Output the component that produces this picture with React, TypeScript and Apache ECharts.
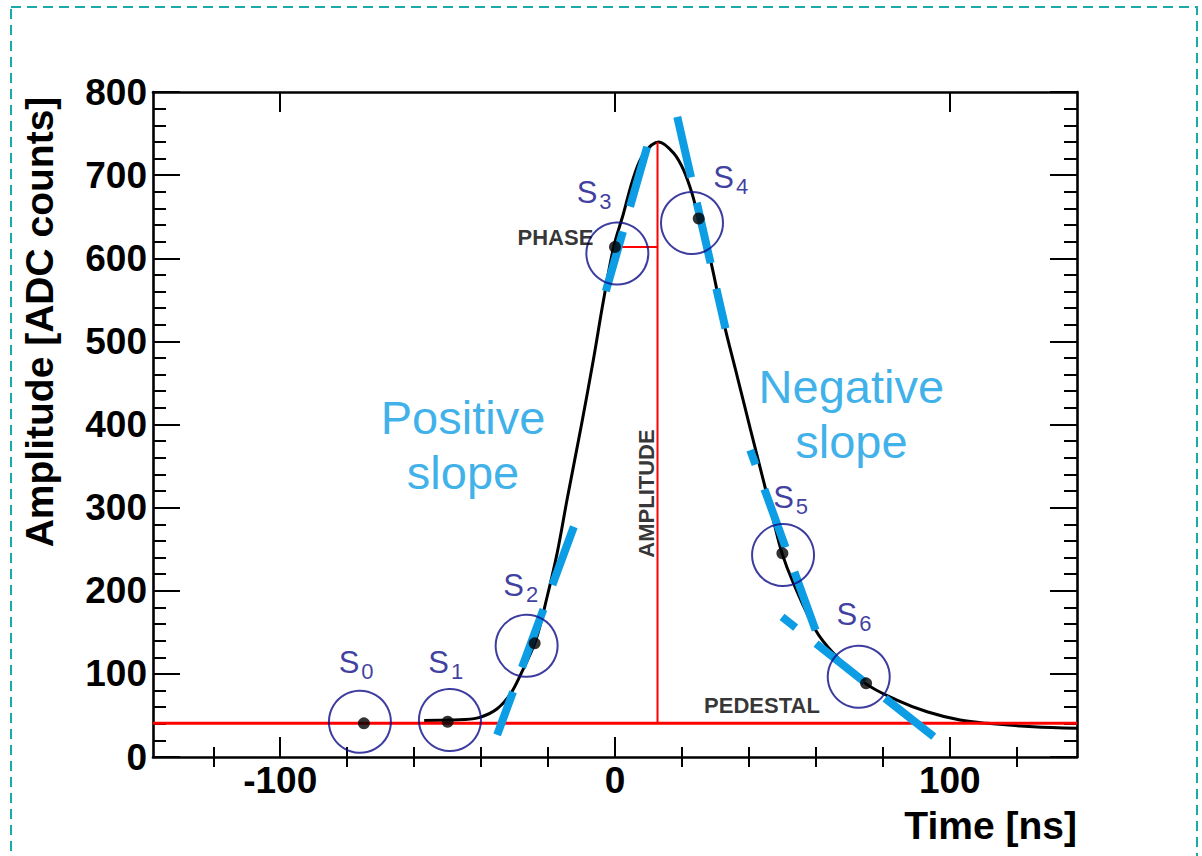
import { useEffect, useRef } from 'react';
import * as echarts from 'echarts';

// ---------- data ----------
const X_MIN = -138;
const X_MAX = 138;
const Y_MIN = 0;
const Y_MAX = 800;
const xMajorTicks = [-100, 0, 100];
const xMinorTicks = [-120, -80, -60, -40, -20, 20, 40, 60, 80, 120];

// fitted pulse shape (time in ns, amplitude in ADC counts)
const curveTimes = [-57, -50, -45, -40.1, -35.2, -31.2, -28.2, -23.7, -20.2, -17.3, -14.3, -10, -6.5, -3.5, -0.4, 2.4, 5.6, 8.6, 13.1, 17.6, 20.5, 23.0, 25.0, 28.5, 32.4, 36.5, 40.4, 44.3, 47.3, 49.9, 53.3, 59.9, 65.2, 74.8, 84.2, 93.2, 103.1, 111.1, 124.9, 138];
const curveValues = [44, 44.5, 45, 48, 58, 76, 99, 140, 194, 245, 310, 400, 477, 548, 613.6, 652, 698, 726, 740, 726, 706, 678, 647.8, 598, 524, 458, 395, 333, 285, 245, 209, 152.7, 125, 88.6, 68.5, 54.5, 44.5, 40.5, 36.4, 34.5];

// the seven samples S0..S6
const sampleNames = ['0', '1', '2', '3', '4', '5', '6'];
const sampleTimes = [-75, -50, -24, 0, 25, 50, 75];
const sampleValues = [40.5, 42.4, 136.7, 613.6, 647.8, 245, 88.6];
const circleTimes = [-76.2, -49.3, -26.4, 0.7, 23.0, 50.2, 72.8];
const circleValues = [42.4, 44.5, 133.8, 605.7, 642.5, 242.9, 96.6];
const labelTimes = [-82.4, -55.6, -33.2, -11.3, 29.5, 47.4, 66.3];
const labelValues = [113.6, 113.6, 205.9, 678.8, 696.8, 312, 170.8];

// reference levels
const PEDESTAL = 40.5;
const PEAK_TIME = 12.7;
const PEAK_VALUE = 740;

// dashed slope lines [start, end]
const slopeLineStarts = [[-12.3, 277], [9.6, 733.9], [18.6, 770], [59.9, 152.7], [95.2, 24.4]];
const slopeLineEnds = [[-35.2, 26.5], [-2.8, 559.5], [33.0, 515.5], [40.4, 369.2], [49.9, 168.7]];

// annotation texts
const slopeTexts = ['Positive\nslope', 'Negative\nslope'];
const slopeTextTimes = [-45.4, 70.6];
const slopeTextValues = [375.8, 413];
const markerTexts = ['PHASE', 'PEDESTAL', 'AMPLITUDE'];
const markerTimes = [-17.8, 43.9, 9.3];
const markerValues = [624.7, 61.9, 317];
const markerRotations = [0, 0, 90];

const xTitle = 'Time [ns]';
const yTitle = 'Amplitude [ADC counts]';

// ---------- styles ----------
const FONT = '"Liberation Sans", Arial, Helvetica, sans-serif';
const BLUE = '#0c9de4';
const NAVY = '#0c0c88';
const RED = '#ff0000';

export default function App() {
  const ref = useRef<HTMLDivElement>(null);

  useEffect(() => {
    if (!ref.current) return;
    const chart = echarts.init(ref.current, null, { renderer: 'svg' });

    const axisLine = { show: true, onZero: false, lineStyle: { color: '#000', width: 2.6 } };
    const tickLine = { color: '#000', width: 2 };
    const xBase = { type: 'value', min: X_MIN, max: X_MAX, splitLine: { show: false }, minorSplitLine: { show: false } };
    const yBase = {
      type: 'value', min: Y_MIN, max: Y_MAX, interval: 100,
      splitLine: { show: false }, minorSplitLine: { show: false },
      axisLine,
      axisTick: { show: true, inside: true, length: 27, lineStyle: tickLine },
      minorTick: { show: true, splitNumber: 5, length: 13, lineStyle: tickLine },
    };
    const tickFont = { fontSize: 37, fontWeight: 'bold', color: '#000', fontFamily: FONT };

    const curveData = curveTimes.map((t, i) => [t, curveValues[i]]);
    const slopeSeries = slopeLineStarts.map((s, i) => ({
      type: 'line',
      data: [s, slopeLineEnds[i]],
      symbol: 'none',
      z: 4,
      lineStyle: { color: BLUE, width: 8, type: [62, 26], cap: 'butt' },
      silent: true,
    }));

    const option = {
      animation: false,
      backgroundColor: '#fff',
      grid: { left: 153, right: 125, top: 92, bottom: 99, containLabel: false },
      xAxis: [
        {
          ...xBase, position: 'bottom', axisLine,
          axisTick: { show: true, inside: true, length: 20, lineStyle: tickLine, customValues: xMajorTicks },
          axisLabel: { show: true, customValues: xMajorTicks, margin: 5, ...tickFont },
        },
        {
          ...xBase, position: 'bottom', axisLine: { show: false },
          axisTick: { show: true, inside: true, length: 10, lineStyle: tickLine, customValues: xMinorTicks },
          axisLabel: { show: false },
        },
        {
          ...xBase, position: 'top', axisLine,
          axisTick: { show: true, inside: true, length: 20, lineStyle: tickLine, customValues: xMajorTicks },
          axisLabel: { show: false },
        },
        {
          ...xBase, position: 'top', axisLine: { show: false },
          axisTick: { show: true, inside: true, length: 10, lineStyle: tickLine, customValues: xMinorTicks },
          axisLabel: { show: false },
        },
      ],
      yAxis: [
        { ...yBase, position: 'left', axisLabel: { show: true, margin: 6, ...tickFont } },
        { ...yBase, position: 'right', axisLabel: { show: false } },
      ],
      graphic: [
        {
          type: 'rect', silent: true, z: -10,
          shape: { x: 11, y: 7, width: 1186, height: 900 },
          style: { fill: 'none', stroke: '#1aaaa8', lineWidth: 2, lineDash: [10, 6] },
        },
        {
          type: 'text', right: 125, top: 806,
          style: { text: xTitle, font: `bold 39px ${FONT}`, fill: '#000' },
        },
        {
          type: 'text', x: 39, y: 322, rotation: Math.PI / 2,
          style: { text: yTitle, font: `bold 39px ${FONT}`, fill: '#000', align: 'center', verticalAlign: 'middle' },
        },
      ],
      series: [
        {
          type: 'line', data: curveData, symbol: 'none', smooth: 0.35, z: 2,
          lineStyle: { color: '#000', width: 3 }, silent: true,
        },
        {
          type: 'line', data: [[X_MIN, PEDESTAL], [X_MAX, PEDESTAL]], symbol: 'none', z: 3,
          lineStyle: { color: RED, width: 3 }, silent: true,
        },
        {
          type: 'line', data: [[PEAK_TIME, PEDESTAL], [PEAK_TIME, PEAK_VALUE]], symbol: 'none', z: 3,
          lineStyle: { color: RED, width: 2 }, silent: true,
        },
        {
          type: 'line', data: [[sampleTimes[3], sampleValues[3]], [PEAK_TIME, sampleValues[3]]], symbol: 'none', z: 3,
          lineStyle: { color: RED, width: 2 }, silent: true,
        },
        ...slopeSeries,
        {
          type: 'scatter', data: sampleTimes.map((t, i) => [t, sampleValues[i]]), symbol: 'circle', symbolSize: 12, z: 5,
          itemStyle: { color: '#000' }, silent: true,
        },
        {
          type: 'scatter', data: circleTimes.map((t, i) => [t, circleValues[i]]), symbol: 'circle', symbolSize: 62, z: 6,
          itemStyle: { color: 'rgba(0,0,0,0)', borderColor: NAVY, borderWidth: 2 }, silent: true,
        },
        {
          type: 'scatter', z: 7, symbolSize: 1, itemStyle: { color: 'rgba(0,0,0,0)' }, silent: true,
          data: labelTimes.map((t, i) => ({ name: sampleNames[i], value: [t, labelValues[i]] })),
          label: {
            show: true, position: [0, 0], align: 'left', verticalAlign: 'middle',
            formatter: (p: any) => `{s|S}{n|${p.name}}`,
            rich: {
              s: { fontSize: 31, fontFamily: FONT, color: NAVY, lineHeight: 40 },
              n: { fontSize: 22, fontFamily: FONT, color: NAVY, verticalAlign: 'bottom', padding: [0, 0, 0, 2] },
            },
          },
        },
        {
          type: 'scatter', z: 7, symbolSize: 1, itemStyle: { color: 'rgba(0,0,0,0)' }, silent: true,
          data: slopeTexts.map((s, i) => ({ name: s, value: [slopeTextTimes[i], slopeTextValues[i]] })),
          label: {
            show: true, position: 'inside', align: 'center', verticalAlign: 'middle',
            formatter: (p: any) => p.name,
            fontSize: 47, lineHeight: 55, fontFamily: FONT, color: BLUE,
          },
        },
        {
          type: 'scatter', z: 7, symbolSize: 1, itemStyle: { color: 'rgba(0,0,0,0)' }, silent: true,
          data: markerTexts.map((s, i) => ({
            name: s, value: [markerTimes[i], markerValues[i]],
            label: { rotate: markerRotations[i] },
          })),
          label: {
            show: true, position: 'inside', align: 'center', verticalAlign: 'middle',
            formatter: (p: any) => p.name,
            fontSize: 22, fontWeight: 'bold', fontFamily: FONT, color: '#000',
          },
        },
      ],
    };

    chart.setOption(option as any);
    return () => chart.dispose();
  }, []);

  return <div ref={ref} style={{ position: 'absolute', left: 0, top: 0, width: 1202, height: 856 }} />;
}
